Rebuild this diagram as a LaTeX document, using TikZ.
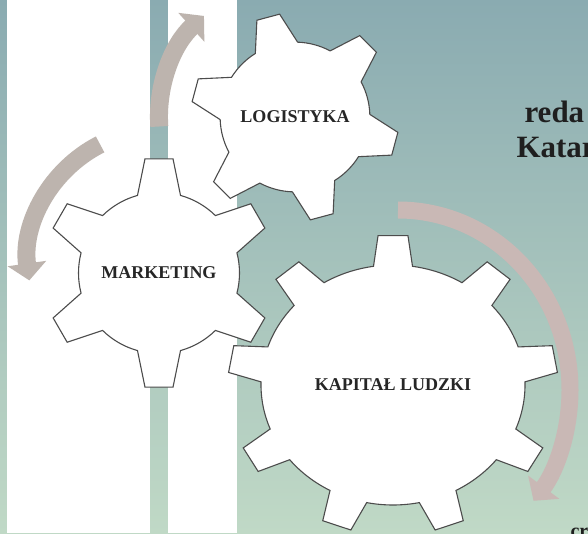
\documentclass[tikz,border=0pt]{standalone}
\usepackage{fontspec}
\setmainfont{Liberation Serif}
\usetikzlibrary{arrows.meta, calc, positioning}

\definecolor{bgtop}{HTML}{8AABB1}
\definecolor{bgmid}{HTML}{A7C2C5}
\definecolor{bgbot}{HTML}{C0D9C6}
\definecolor{arrowgrey}{HTML}{BDB4AE}
\definecolor{arrowpink}{HTML}{C9B8B5}

% gear outline: centre, x radius, y radius, inner ratio, teeth, first tooth angle, tip half angle, base half angle
\newcommand{\gear}[8]{%
  \filldraw[gearline, shift={(#1)}]
    ({#4*#2*cos(#6-#8)},{#4*#3*sin(#6-#8)})
    \foreach \k in {1,...,#5}{
      -- ({#2*cos(#6+(\k-1)*360/#5-#7)},{#3*sin(#6+(\k-1)*360/#5-#7)})
      -- ({#2*cos(#6+(\k-1)*360/#5+#7)},{#3*sin(#6+(\k-1)*360/#5+#7)})
      -- ({#4*#2*cos(#6+(\k-1)*360/#5+#8)},{#4*#3*sin(#6+(\k-1)*360/#5+#8)})
      arc[start angle={#6+(\k-1)*360/#5+#8}, end angle={#6+\k*360/#5-#8},
          x radius={#4*#2}, y radius={#4*#3}]
    } -- cycle;
}

\begin{document}
\begin{tikzpicture}[x=1pt, y=1pt,
  gearline/.style={draw=black!70, line width=1.1pt, fill=white, line join=miter},
  gearlabel/.style={font=\bfseries\fontsize{18}{20}\selectfont, text=black!85},
  covertext/.style={font=\bfseries\fontsize{31}{35}\selectfont, text=black!88, anchor=base west},
  cycarrow/.style={line width=18pt, draw=arrowgrey, -{Triangle[width=38pt,length=17pt]}}]
\clip (0,0) rectangle (588,533);

% background wash and white stripes
\shade[top color=bgtop, middle color=bgmid, bottom color=bgbot] (0,0) rectangle (588,533);
\fill[white] (7,0) rectangle (150,533);
\fill[white] (168,0) rectangle (237,533);

% gear centres
\coordinate (logc) at (295,416);
\coordinate (kapc) at (393,148);
\coordinate (mktc) at (159,260);

% gears
\gear{logc}{104}{104}{0.72}{6}{105}{6.5}{17}
\gear{kapc}{165}{150}{0.8}{9}{90}{5.2}{8.5}
\gear{mktc}{115}{115}{0.70}{6}{90}{7}{15.5}

\node[gearlabel] (logistyka) at (logc) {LOGISTYKA};
\node[gearlabel] (marketing) at (mktc) {MARKETING};
\node[gearlabel] (kapital) at (kapc) {KAPITAŁ LUDZKI};

% turning arrows
\coordinate (a1) at (159.3,406.5);
\coordinate (a2) at (100.1,388.6);
\coordinate (a3) at (398,323);
\draw[cycarrow] (a1) arc[start angle=184, end angle=132, radius=136];
\draw[cycarrow] (a2) arc[start angle=117, end angle=188, radius=132];
\draw[cycarrow, draw=arrowpink, line width=17pt] (a3)
  arc[start angle=90, end angle=-38, x radius=172, y radius=180];

% cover text at the right edge
\node[covertext] (reda) at (521,410) {reda};
\node[covertext] (katar) at (513,375) {Katar};
\node[font=\bfseries\fontsize{20}{22}\selectfont, text=black!88, anchor=base west] (cr) at (567,-4) {cr};
\end{tikzpicture}
\end{document}
